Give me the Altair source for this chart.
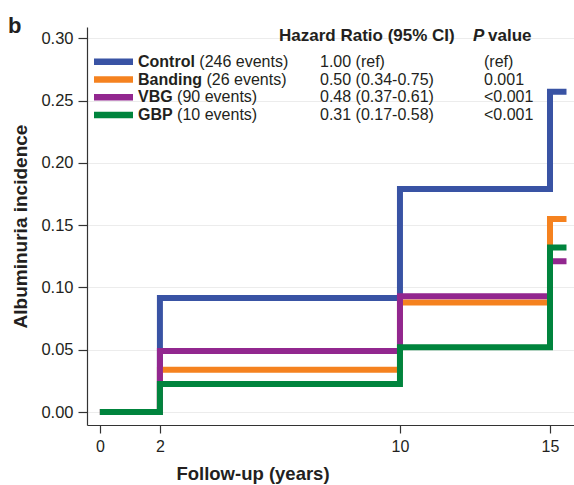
import altair as alt
import pandas as pd

# ---- data ----
groups = ["Control", "Banding", "VBG", "GBP"]
colors = ["#3953a4", "#f5821f", "#92278f", "#00843d"]
events = ["(246 events)", "(26 events)", "(90 events)", "(10 events)"]
hazard = ["1.00 (ref)", "0.50 (0.34-0.75)", "0.48 (0.37-0.61)", "0.31 (0.17-0.58)"]
pvals = ["(ref)", "0.001", "<0.001", "<0.001"]

years = [0, 2, 10, 15, 15.55]
control = [0.0, 0.0915, 0.179, 0.257, 0.257]
banding = [0.0, 0.034, 0.088, 0.155, 0.155]
vbg = [0.0, 0.049, 0.093, 0.121, 0.121]
gbp = [0.0, 0.0225, 0.052, 0.132, 0.132]
series = [control, banding, vbg, gbp]

x_ticks = [0, 2, 10, 15]
y_ticks = [0.0, 0.05, 0.10, 0.15, 0.20, 0.25, 0.30]

# ---- styling ----
FONT = "Liberation Sans, Arial, Helvetica, sans-serif"
INK = "#231f20"
W, H = 487, 398
ROW_FS = 16
HEAD_FS = 17

rows = []
for g, vals in zip(groups, series):
    for t, v in zip(years, vals):
        rows.append({"group": g, "year": t, "value": v})
df = pd.DataFrame(rows)

# Arial-bold advance widths (em) for computing where the regular text follows the bold name
BOLD_W = {"C": .722, "o": .611, "n": .611, "t": .333, "r": .389, "l": .278,
          "B": .722, "a": .556, "d": .611, "i": .278, "g": .611, "V": .667,
          "G": .778, "P": .667, " ": .278}
NAME_X = 51
ev_x = [NAME_X + (sum(BOLD_W[c] for c in g) + 0.278) * ROW_FS for g in groups]

leg = pd.DataFrame({"group": groups, "events": events, "hr": hazard, "p": pvals,
                    "row": list(range(len(groups))), "ex": ev_x})

color_scale = alt.Scale(domain=groups, range=colors)
x_scale = alt.Scale(domain=[-0.43, 15.8], nice=False, zero=False)
y_scale = alt.Scale(domain=[-0.0104, 0.309], nice=False, zero=False)

x_enc = alt.X("year:Q", scale=x_scale, axis=alt.Axis(
    values=x_ticks, title="Follow-up (years)", grid=False, tickSize=8,
    labelPadding=5, labelFontSize=16, titleFontSize=18.5, titleFontWeight="bold",
    titleX=165.5, titleY=54, titleBaseline="alphabetic",
    domainColor="#333333", tickColor="#333333", domainWidth=1.2, tickWidth=1.2,
    labelColor=INK, titleColor=INK, labelFont=FONT, titleFont=FONT))
y_enc = alt.Y("value:Q", scale=y_scale, axis=alt.Axis(
    values=y_ticks, format=".2f", title="Albuminuria incidence", grid=True,
    gridColor="#ececec", gridWidth=1, tickSize=9, labelPadding=5,
    labelFontSize=16.5, titleFontSize=19, titleFontWeight="bold",
    titleX=-61, titleY=199, titleBaseline="alphabetic", titleAngle=270,
    domainColor="#333333", tickColor="#333333", domainWidth=1.2, tickWidth=1.2,
    labelColor=INK, titleColor=INK, labelFont=FONT, titleFont=FONT))
c_enc = alt.Color("group:N", scale=color_scale, legend=None)

layers = []
for g in groups:
    layers.append(
        alt.Chart(df).transform_filter(alt.datum.group == g)
        .mark_line(interpolate="step-after", strokeWidth=6, strokeJoin="miter")
        .encode(x=x_enc, y=y_enc, color=c_enc)
    )

base_leg = alt.Chart(leg).transform_calculate(py="39.7 + datum.row * 17.8")
py_enc = alt.Y("py:Q", scale=None)

leg_lines = base_leg.transform_calculate(ly="datum.py - 5").mark_rule(strokeWidth=6.5).encode(
    x=alt.value(7), x2=alt.value(46), y=alt.Y("ly:Q", scale=None), color=c_enc)

txt = dict(font=FONT, fontSize=ROW_FS, color=INK, align="left", baseline="alphabetic")
leg_names = base_leg.mark_text(fontWeight="bold", **txt).encode(
    x=alt.value(NAME_X), y=py_enc, text="group:N")
leg_events = base_leg.mark_text(**txt).encode(
    x=alt.X("ex:Q", scale=None), y=py_enc, text="events:N")
leg_hr = base_leg.mark_text(**txt).encode(x=alt.value(233), y=py_enc, text="hr:N")
leg_p = base_leg.mark_text(**txt).encode(x=alt.value(397), y=py_enc, text="p:N")

one = pd.DataFrame({"k": [0]})
head = dict(font=FONT, fontSize=HEAD_FS, color=INK, align="left",
            baseline="alphabetic", fontWeight="bold")
h1 = alt.Chart(one).mark_text(text="Hazard Ratio (95% CI)", **head).encode(
    x=alt.value(192), y=alt.value(13.5))
h2 = alt.Chart(one).mark_text(text="P", fontStyle="italic", **head).encode(
    x=alt.value(386), y=alt.value(13.5))
h3 = alt.Chart(one).mark_text(text="value", **head).encode(
    x=alt.value(401), y=alt.value(13.5))
panel = alt.Chart(one).mark_text(text="b", font=FONT, fontSize=22, fontWeight="bold",
                                 color=INK, align="left", baseline="alphabetic").encode(
    x=alt.value(-79), y=alt.value(6))

chart = alt.layer(*layers, leg_lines, leg_names, leg_events, leg_hr, leg_p,
                  h1, h2, h3, panel).properties(
    width=W, height=H,
    autosize=alt.AutoSizeParams(type="none"),
    padding={"left": 87, "top": 27, "right": 0, "bottom": 60},
    background="white",
).configure_view(stroke=None)

chart.save("out.html", embed_options={"renderer": "svg", "actions": False})
